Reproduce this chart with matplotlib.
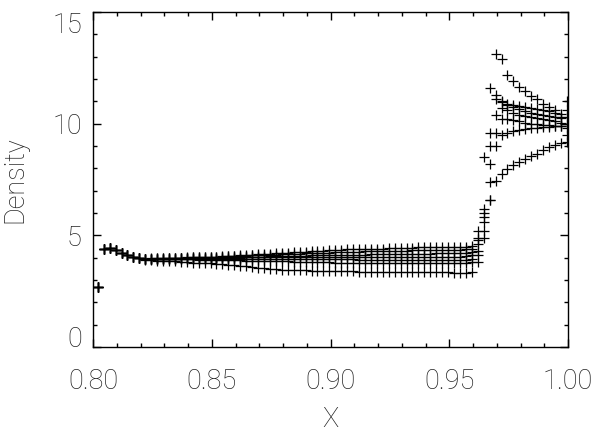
import numpy as np
import matplotlib
matplotlib.use("Agg")
import matplotlib.pyplot as plt
from matplotlib.ticker import MultipleLocator

# cell centres of the grid (80 cells from 0.802 to 0.9995)
x_cells = np.round(0.802 + 0.0025 * np.arange(80), 4)

# first cells, the same for every snapshot
left_edge = [2.70, 4.40, 4.45, 4.35, 4.22, 4.10, 4.02, 3.98]

# density of each snapshot from cell 8 onward
snap_1 = [3.96, 3.97, 3.97, 3.98, 3.99, 4.00, 4.00, 4.01, 4.02, 4.03, 4.03, 4.04, 4.05,
          4.06, 4.08, 4.09, 4.11, 4.12, 4.14, 4.15, 4.17, 4.18, 4.20, 4.21, 4.23, 4.24, 4.26,
          4.27, 4.29, 4.30, 4.32, 4.33, 4.35,
          4.36, 4.37, 4.37, 4.38, 4.39, 4.40, 4.41, 4.41, 4.42, 4.43, 4.44, 4.45, 4.45, 4.46,
          4.47, 4.48, 4.48, 4.49, 4.49, 4.50,
          4.50, 4.50, 4.52,
          4.90, 6.20, 9.00, 13.1, 12.9, 12.2, 11.9, 11.65, 11.45, 11.25, 11.1, 10.9, 10.75,
          10.6, 10.3, 10.0]
snap_2 = [3.96, 3.96, 3.97, 3.98, 3.98, 3.99, 4.00, 4.00, 4.01, 4.02, 4.02, 4.03, 4.04,
          4.05, 4.06, 4.07, 4.08, 4.09, 4.10, 4.11, 4.12, 4.13, 4.14, 4.15, 4.16, 4.17, 4.18,
          4.19, 4.20, 4.21, 4.22, 4.23, 4.25,
          4.25, 4.26, 4.26, 4.27, 4.28, 4.28, 4.29, 4.30, 4.30, 4.31, 4.31, 4.32, 4.33, 4.33,
          4.34, 4.34, 4.35, 4.35, 4.36, 4.36,
          4.36, 4.37, 4.40,
          5.20, 8.50, 11.6, 11.3, 11.0, 10.9, 10.85, 10.8, 10.75, 10.7, 10.65, 10.6, 10.55,
          10.5, 10.45, 11.0]
snap_3 = [3.95, 3.95, 3.96, 3.96, 3.97, 3.97, 3.98, 3.98, 3.99, 3.99, 4.00, 4.00, 4.00,
          4.01, 4.01, 4.02, 4.03, 4.03, 4.04, 4.04, 4.05, 4.06, 4.06, 4.07, 4.07, 4.08, 4.09,
          4.09, 4.10, 4.10, 4.11, 4.11, 4.12,
          4.12, 4.13, 4.13, 4.14, 4.14, 4.15, 4.15, 4.16, 4.16, 4.16, 4.17, 4.17, 4.17, 4.18,
          4.18, 4.18, 4.19, 4.19, 4.19, 4.20,
          4.20, 4.21, 4.25,
          4.80, 6.00, 9.60, 11.1, 10.95, 10.85, 10.75, 10.65, 10.55, 10.5, 10.45, 10.4, 10.35,
          10.3, 10.25, 10.6]
snap_4 = [3.95, 3.95, 3.95, 3.96, 3.96, 3.96, 3.97, 3.97, 3.98, 3.98, 3.99, 3.99, 4.00,
          4.00, 4.00, 4.00, 4.00, 4.01, 4.01, 4.01, 4.01, 4.01, 4.01, 4.01, 4.02, 4.02, 4.02,
          4.02, 4.02, 4.02, 4.02, 4.02, 4.02,
          4.02, 4.02, 4.03, 4.03, 4.03, 4.03, 4.03, 4.03, 4.03, 4.04, 4.04, 4.04, 4.04, 4.04,
          4.04, 4.04, 4.05, 4.05, 4.05, 4.05,
          4.05, 4.06, 4.10,
          4.60, 5.60, 8.20, 10.4, 10.7, 10.6, 10.5, 10.4, 10.35, 10.3, 10.25, 10.2, 10.15,
          10.1, 10.05, 10.3]
snap_5 = [3.95, 3.95, 3.95, 3.95, 3.95, 3.95, 3.95, 3.95, 3.95, 3.95, 3.95, 3.95, 3.95,
          3.95, 3.95, 3.94, 3.94, 3.94, 3.94, 3.94, 3.94, 3.93, 3.93, 3.93, 3.93, 3.93, 3.93,
          3.92, 3.92, 3.92, 3.92, 3.92, 3.92,
          3.92, 3.92, 3.92, 3.91, 3.91, 3.91, 3.91, 3.91, 3.91, 3.91, 3.91, 3.90, 3.90, 3.90,
          3.90, 3.90, 3.90, 3.90, 3.90, 3.90,
          3.90, 3.91, 3.95,
          4.30, 5.20, 7.40, 9.60, 10.2, 10.2, 10.15, 10.1, 10.05, 10.0, 10.0, 9.95, 9.95,
          9.9, 9.9, 9.8]
snap_6 = [3.95, 3.95, 3.94, 3.94, 3.93, 3.93, 3.93, 3.92, 3.92, 3.91, 3.91, 3.90, 3.90,
          3.89, 3.89, 3.88, 3.88, 3.87, 3.86, 3.86, 3.85, 3.85, 3.84, 3.83, 3.83, 3.82, 3.82,
          3.81, 3.80, 3.80, 3.79, 3.79, 3.78,
          3.78, 3.78, 3.78, 3.77, 3.77, 3.77, 3.77, 3.77, 3.76, 3.76, 3.76, 3.76, 3.76, 3.76,
          3.75, 3.75, 3.75, 3.75, 3.75, 3.75,
          3.75, 3.76, 3.80,
          4.10, 4.90, 6.60, 9.00, 9.50, 9.60, 9.65, 9.70, 9.75, 9.80, 9.80, 9.85, 9.85,
          9.9, 9.9, 9.5]
snap_7 = [3.90, 3.89, 3.87, 3.86, 3.84, 3.83, 3.81, 3.80, 3.78, 3.77, 3.75, 3.74, 3.72,
          3.70, 3.68, 3.66, 3.63, 3.61, 3.58, 3.55, 3.53, 3.51, 3.49, 3.47, 3.46, 3.45, 3.44,
          3.43, 3.42, 3.42, 3.41, 3.41, 3.40,
          3.40, 3.39, 3.39, 3.38, 3.38, 3.37, 3.37, 3.37, 3.36, 3.36, 3.36, 3.35, 3.35, 3.35,
          3.35, 3.34, 3.34, 3.34, 3.34, 3.33,
          3.33, 3.33, 3.36,
          3.80, 5.80, 6.60, 7.45, 7.75, 7.95, 8.15, 8.30, 8.42, 8.55, 8.66, 8.80, 8.95,
          9.05, 9.12, 9.20]

snapshots = [snap_1, snap_2, snap_3, snap_4, snap_5, snap_6, snap_7]

x_ticks = [0.80, 0.85, 0.90, 0.95, 1.00]
x_tick_labels = ["0.80", "0.85", "0.90", "0.95", "1.00"]
y_ticks = [0, 5, 10, 15]

plt.rcParams['font.family'] = ['Roboto', 'DejaVu Sans']
plt.rcParams['font.weight'] = 'light'
text_col = '#222222'
fs = 19.5

fig = plt.figure(figsize=(5.91, 4.32), dpi=100)
ax = fig.add_axes([93 / 591, 85 / 432, 475 / 591, 335 / 432])

for snap in snapshots:
    ax.plot(x_cells, left_edge + snap, linestyle='none', marker='+',
            markersize=7, markeredgewidth=0.9, color='black', clip_on=True)

ax.set_xlim(0.80, 1.00)
ax.set_ylim(0, 15)
ax.set_xticks(x_ticks)
ax.set_xticklabels(x_tick_labels)
ax.set_yticks(y_ticks)
ax.xaxis.set_minor_locator(MultipleLocator(0.01))
ax.yaxis.set_minor_locator(MultipleLocator(1))

ax.tick_params(which='both', direction='in', top=True, right=True,
               width=1, colors='black', labelcolor=text_col, labelsize=fs)
ax.tick_params(which='major', length=6)
ax.tick_params(which='minor', length=3)
ax.tick_params(axis='x', which='major', pad=15)
ax.tick_params(axis='y', which='major', pad=8)
for sp in ax.spines.values():
    sp.set_linewidth(1)

# the end labels of the y axis sit inside the axis range
yt = ax.yaxis.get_major_ticks()
yt[0].label1.set_va('baseline')
yt[-1].label1.set_va('top')

ax.set_xlabel('X', fontsize=fs, color=text_col, fontweight='light')
ax.set_ylabel('Density', fontsize=fs, color=text_col, fontweight='light')
ax.xaxis.set_label_coords(0.5, -0.175)
ax.yaxis.set_label_coords(-0.135, 0.5)

fig.savefig('out.png', dpi=100)
